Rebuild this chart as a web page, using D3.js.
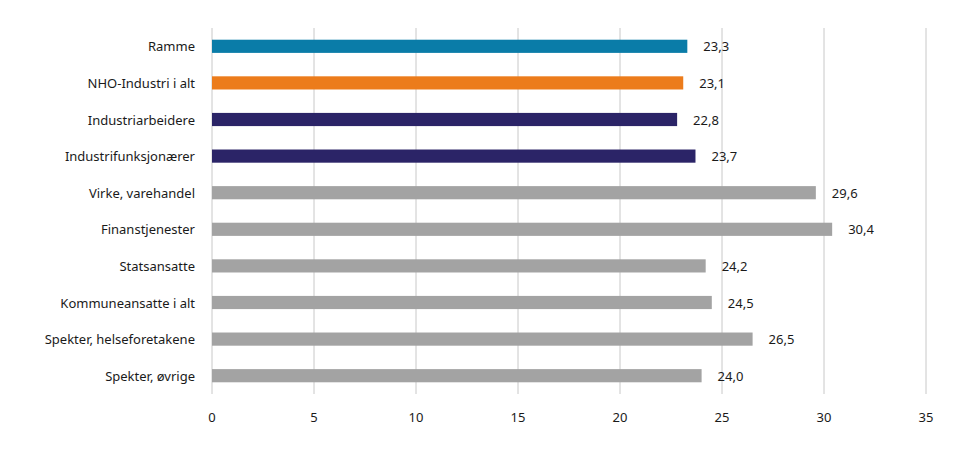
<!DOCTYPE html>
<html>
<head>
<meta charset="utf-8">
<script src="https://cdn.jsdelivr.net/npm/d3@7"></script>
<style>
  body { margin: 0; background: #fff; }
  text { font-family: "Noto Sans", sans-serif; font-size: 13px; fill: #1a1a1a; }
</style>
</head>
<body>
<svg id="chart" width="958" height="454"></svg>
<script>
// category labels, top to bottom
const categories = [
  "Ramme", "NHO-Industri i alt", "Industriarbeidere", "Industrifunksjonærer",
  "Virke, varehandel", "Finanstjenester", "Statsansatte",
  "Kommuneansatte i alt", "Spekter, helseforetakene", "Spekter, øvrige"
];
const values = [23.3, 23.1, 22.8, 23.7, 29.6, 30.4, 24.2, 24.5, 26.5, 24.0];
const groups = ["ramme", "nho", "ind", "ind", "other", "other", "other", "other", "other", "other"];
const xTicks = [0, 5, 10, 15, 20, 25, 30, 35];

const colors = { ramme: "#0a7ca8", nho: "#ec7c1b", ind: "#2b2467", other: "#a3a3a3" };

const svg = d3.select("#chart");
const x = d3.scaleLinear().domain([0, 35]).range([212, 926]);
const y = d3.scaleBand().domain(categories).range([28, 394]).paddingInner(0.64).paddingOuter(0.32);

// vertical gridlines
svg.append("g").selectAll("line").data(xTicks).join("line")
  .attr("x1", d => x(d)).attr("x2", d => x(d))
  .attr("y1", 28).attr("y2", 394)
  .attr("stroke", "#c8c8c8").attr("stroke-width", 1);

// x tick labels
svg.append("g").selectAll("text").data(xTicks).join("text")
  .attr("x", d => x(d)).attr("y", 422)
  .attr("text-anchor", "middle")
  .text(d => d);

// bars
svg.append("g").selectAll("rect").data(values).join("rect")
  .attr("x", x(0))
  .attr("y", (d, i) => y(categories[i]))
  .attr("width", d => x(d) - x(0))
  .attr("height", y.bandwidth())
  .attr("fill", (d, i) => colors[groups[i]]);

// value labels
svg.append("g").selectAll("text").data(values).join("text")
  .attr("x", d => x(d) + 16)
  .attr("y", (d, i) => y(categories[i]) + y.bandwidth() / 2 + 5)
  .text(d => d.toFixed(1).replace(".", ","));

// category labels
svg.append("g").selectAll("text").data(categories).join("text")
  .attr("x", 195)
  .attr("y", d => y(d) + y.bandwidth() / 2 + 5)
  .attr("text-anchor", "end")
  .text(d => d);
</script>
</body>
</html>
